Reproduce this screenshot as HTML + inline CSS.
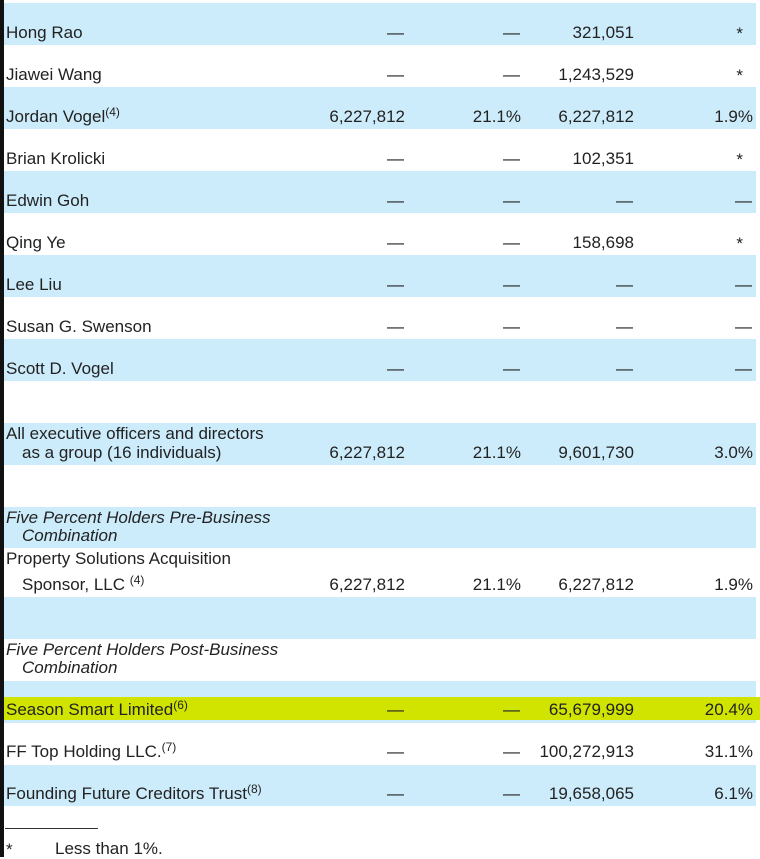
<!DOCTYPE html>
<html><head><meta charset="utf-8">
<style>
body{margin:0;width:760px;height:857px;position:relative;background:#fff;overflow:hidden;font-family:"Liberation Sans","Noto Sans CJK SC",sans-serif;color:#222;}
.strip{position:absolute;left:0;top:0;width:4px;height:857px;background:#111;}
.row{position:absolute;left:4px;width:752px;}
.blue{background:#cdecfb;}
.hl{background:#d0e400;width:756px;}
.t{position:absolute;font-size:17px;line-height:19px;white-space:nowrap;}
.r{text-align:right;}
sup{font-size:12px;vertical-align:6px;line-height:0;}
.i{font-style:italic;}
</style></head><body>
<div class="strip"></div>
<div id="tbl"></div>
<div style="position:absolute;left:5px;top:828px;width:93px;height:1px;background:#333"></div>
<div class="t" style="left:6px;top:840px">*</div>
<div class="t" style="left:55px;top:839px">Less than 1%.</div>
<script>
// bands: [top, height, type]
const bands=[[3,42,'blue'],[87,42,'blue'],[171,42,'blue'],[255,42,'blue'],[339,42,'blue'],[423,42,'blue'],[507,41,'blue'],[597,42,'blue'],[681,42,'blue'],[697,23,'hl'],[765,41,'blue']];
const names=['Hong Rao','Jiawei Wang','Jordan Vogel<sup>(4)</sup>','Brian Krolicki','Edwin Goh','Qing Ye','Lee Liu','Susan G. Swenson','Scott D. Vogel'];
const col1=['—','—','6,227,812','—','—','—','—','—','—'];
const col2=['—','—','21.1%','—','—','—','—','—','—'];
const col3=['321,051','1,243,529','6,227,812','102,351','—','158,698','—','—','—'];
const col4=['*','*','1.9%','*','—','*','—','—','—'];
const tbl=document.getElementById('tbl');
for(const b of bands){const d=document.createElement('div');d.className='row '+b[2];d.style.top=b[0]+'px';d.style.height=b[1]+'px';

tbl.appendChild(d);}
function txt(html,x,y,right,cls,name){const d=document.createElement('div');d.className='t'+(right?' r':'')+(cls?' '+cls:'');
if(right){d.style.right=(760-x)+'px';}else d.style.left=x+'px';d.style.top=y+'px';d.innerHTML=html;

tbl.appendChild(d);}
function cell(v,x,y,name){ if(v==='—'){txt('—',x-1,y,true,'',name);} else if(v==='*'){txt('*',x-10,y+1,true,'',name);} else txt(v,x,y,true,'',name);}
names.forEach((n,i)=>{const y=23+i*42;
txt(n,6,y,false,'','holder-name');
cell(col1[i],405,y,'shares-pre');cell(col2[i],521,y,'percent-pre');cell(col3[i],634,y,'shares-post');cell(col4[i],753,y,'percent-post');});
txt('All executive officers and directors',6,424,false,'','holder-name');
txt('as a group (16 individuals)',22,443,false,'','holder-name');
txt('6,227,812',405,443,true,'','shares-pre');txt('21.1%',521,443,true,'','percent-pre');txt('9,601,730',634,443,true,'','shares-post');txt('3.0%',753,443,true,'','percent-post');
txt('Five Percent Holders Pre-Business',6,508,false,'i','section-heading');
txt('Combination',22,526,false,'i','section-heading');
txt('Property Solutions Acquisition',6,549,false,'','holder-name');
txt('Sponsor, LLC <sup>(4)</sup>',22,575,false,'','holder-name');
txt('6,227,812',405,575,true,'','shares-pre');txt('21.1%',521,575,true,'','percent-pre');txt('6,227,812',634,575,true,'','shares-post');txt('1.9%',753,575,true,'','percent-post');
txt('Five Percent Holders Post-Business',6,640,false,'i','section-heading');
txt('Combination',22,658,false,'i','section-heading');
const bot=[['Season Smart Limited<sup>(6)</sup>','65,679,999','20.4%',700],['FF Top Holding LLC.<sup>(7)</sup>','100,272,913','31.1%',742],['Founding Future Creditors Trust<sup>(8)</sup>','19,658,065','6.1%',784]];
for(const r of bot){txt(r[0],6,r[3],false,'','holder-name');cell('—',405,r[3],'shares-pre');cell('—',521,r[3],'percent-pre');txt(r[1],634,r[3],true,'','shares-post');txt(r[2],753,r[3],true,'','percent-post');}
</script>
</body></html>
